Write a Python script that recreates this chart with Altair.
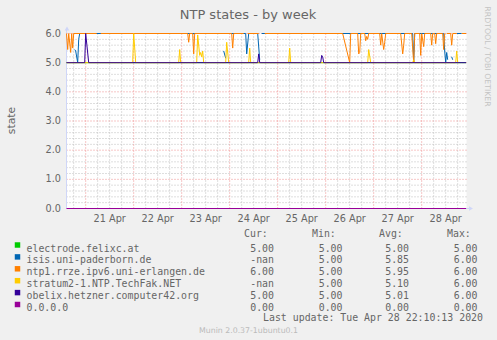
import altair as alt
import pandas as pd

FONT = "DejaVu Sans"
MONO = "DejaVu Sans Mono"
TXT = "#666666"
W, H = 400, 175

# ---- series: time in hours after 2020-04-21 00:00, None = unknown ----
electrode_t = [-9.6, 190.2]
electrode_v = [5.0, 5.0]

isis_t = [-5.5, -5, -4, -3.5, -3, 68, 68.5, 69, 70, 70.5, 71, 80, 80.5, 81.5, 86, 87, 87.5,
          88, 163.5, 164, 164.5, 179, 179.5, 180, 180.5, 181, 181.5, 183, 183.5, 184, 185.5, 188]
isis_v = [5.45, 5.4, 5.0, 5.8, 6.0, 6.0, None, 5.4, 5.15, None, 6.0, 6.0, 5.3, 6.0, 6.0, 5.1, None,
          6.0, 6.0, 5.0, 6.0, 6.0, 5.4, 5.0, 5.35, 5.1, None, 5.2, 5.1, None, 6.0, 6.0]

ntp1_t = [-9.6, -9, -8.5, -7.5, -7, -6.5, -6, 5.5, 6.5, 7.5, 51, 51.5, 52, 53.5, 54, 54.5,
          73, 73.5, 74, 79, 80, 81, 86.5, 88, 89.5, 128.5, 132, 132.5, 136, 136.5, 137, 137.5,
          139.5, 140, 140.5, 141, 141.5, 147, 147.5, 148, 149, 149.5, 150, 157.5, 158.5, 159,
          159.5, 163, 164, 164.5, 167, 167.5, 168, 169, 169.5, 172.5, 173, 173.5, 174.5, 175,
          175.5, 178.5, 179, 179.5, 180, 180.5, 182.5, 183, 183.5, 185.5, 186.5, 188, 190.2]
ntp1_v = [6.0, 5.45, 6.0, 5.35, 6.0, 5.5, 6.0, 6.0, None, 6.0, 6.0, 5.7, 6.0, 6.0, 5.3, 6.0,
          6.0, 5.5, 6.0, 6.0, None, 6.0, 6.0, None, 6.0, 6.0, 5.0, 6.0, 6.0, 5.3, 5.35, 6.0,
          6.0, 5.75, 5.9, 5.8, 6.0, 6.0, 5.6, 6.0, 5.45, 5.7, 6.0, 6.0, 5.3, 5.6,
          6.0, 6.0, 5.0, 6.0, 6.0, 5.25, 6.0, 5.55, 6.0, 6.0, 5.6, 6.0, 6.0, 5.65,
          6.0, 6.0, 5.45, 6.0, None, 6.0, 6.0, 5.6, 6.0, 6.0, None, 6.0, 6.0]

stratum_t = [-9.6, 23.5, 24, 25, 46.5, 47, 47.5, 55.5, 56, 57, 57.5, 58, 58.5, 59, 70, 70.5,
             71.5, 81.5, 82, 82.5, 101.5, 102, 102.5, 141, 141.5, 142.5, 163.5, 164, 164.5,
             185, 185.5, 186, 186.5]
stratum_v = [5.0, 5.0, 6.0, 5.0, 5.0, 5.45, 5.0, 5.0, 5.95, 5.25, 5.35, 5.2, 5.4, 5.0, 5.0, 5.7,
             5.0, 5.0, 5.5, 5.0, 5.0, 5.5, 5.0, 5.0, 5.45, 5.0, 5.0, 5.1, 5.0,
             5.0, 5.4, 5.0, 5.0]

obelix_t = [-9.6, -0.5, 0, 1.5, 86, 86.5, 87, 117.5, 118, 118.5, 119, 190.2]
obelix_v = [5.0, 5.0, 6.0, 5.0, 5.0, 5.3, 5.0, 5.0, 5.25, 5.2, 5.0, 5.0]

zero_t = [-9.6, 190.2]
zero_v = [0.0, 0.0]

# ---- legend ----
names = ["electrode.felixc.at", "isis.uni-paderborn.de", "ntp1.rrze.ipv6.uni-erlangen.de",
         "stratum2-1.NTP.TechFak.NET", "obelix.hetzner.computer42.org", "0.0.0.0"]
colors = ["#00CC00", "#0066B3", "#FF8000", "#FFCC00", "#330099", "#990099"]
cur = ["5.00", "-nan", "6.00", "-nan", "5.00", "0.00"]
mins = ["5.00", "5.00", "5.00", "5.00", "5.00", "0.00"]
avgs = ["5.00", "5.85", "5.95", "5.10", "5.01", "0.00"]
maxs = ["5.00", "6.00", "6.00", "6.00", "6.00", "0.00"]

# ---- axes / grid ----
y_ticks = [0, 1, 2, 3, 4, 5, 6]
y_minor = [0.2, 0.4, 0.6, 0.8, 1.2, 1.4, 1.6, 1.8, 2.2, 2.4, 2.6, 2.8, 3.2, 3.4, 3.6, 3.8,
           4.2, 4.4, 4.6, 4.8, 5.2, 5.4, 5.6, 5.8]
x_major = [0, 24, 48, 72, 96, 120, 144, 168]
x_minor = [-6, 6, 12, 18, 30, 36, 42, 54, 60, 66, 78, 84, 90, 102, 108, 114, 126, 132, 138,
           150, 156, 162, 174, 180, 186]
day_pos = [12, 36, 60, 84, 108, 132, 156, 180]
day_labels = ["21 Apr", "22 Apr", "23 Apr", "24 Apr", "25 Apr", "26 Apr", "27 Apr", "28 Apr"]

xs = alt.Scale(domain=[-9.6, 190.4], nice=False, zero=False)
ys = alt.Scale(domain=[0, 6], nice=False, zero=False)

MINOR = "#BDBDBD"
MAJOR = "#EE8E8E"

layers = []

# grid
layers.append(alt.Chart(pd.DataFrame({"y": y_minor})).mark_rule(
    color=MINOR, strokeWidth=1, strokeDash=[1, 2]).encode(
    y=alt.Y("y:Q", scale=ys, axis=None)))
layers.append(alt.Chart(pd.DataFrame({"x": x_minor})).mark_rule(
    color=MINOR, strokeWidth=1, strokeDash=[1, 2]).encode(
    x=alt.X("x:Q", scale=xs, axis=None)))
layers.append(alt.Chart(pd.DataFrame({"y": y_ticks[1:]})).mark_rule(
    color=MAJOR, strokeWidth=1, strokeDash=[1, 2]).encode(
    y=alt.Y("y:Q", scale=ys, axis=None)))
layers.append(alt.Chart(pd.DataFrame({"x": x_major})).mark_rule(
    color=MAJOR, strokeWidth=1, strokeDash=[1, 2]).encode(
    x=alt.X("x:Q", scale=xs, axis=None)))

# axis lines and arrows
one = pd.DataFrame({"a": [0]})
layers.append(alt.Chart(one).mark_rule(color="#CFD6F8", strokeWidth=1).encode(
    x=alt.value(0), y=alt.value(-4), y2=alt.value(H)))
layers.append(alt.Chart(one).mark_rule(color="#CFD6F8", strokeWidth=1).encode(
    x=alt.value(0), x2=alt.value(W + 3), y=alt.value(H)))
layers.append(alt.Chart(one).mark_point(shape="triangle-up", filled=True, size=22,
                                        color="#CFD6F8", opacity=1).encode(
    x=alt.value(0.5), y=alt.value(-5)))
layers.append(alt.Chart(one).mark_point(shape="triangle-right", filled=True, size=22,
                                        color="#CFD6F8", opacity=1).encode(
    x=alt.value(W + 4.5), y=alt.value(H)))

# data lines, drawn in munin order
series = [(electrode_t, electrode_v), (isis_t, isis_v), (ntp1_t, ntp1_v),
          (stratum_t, stratum_v), (obelix_t, obelix_v), (zero_t, zero_v)]
for (ts, vs), col in zip(series, colors):
    df = pd.DataFrame({"t": ts, "v": vs})
    layers.append(alt.Chart(df).mark_line(color=col, strokeWidth=1, interpolate="linear").encode(
        x=alt.X("t:Q", scale=xs, axis=None),
        y=alt.Y("v:Q", scale=ys, axis=None)))

# tick labels
layers.append(alt.Chart(pd.DataFrame({"y": y_ticks})).mark_text(
    font=FONT, fontSize=9.7, color=TXT, align="right", baseline="middle").encode(
    y=alt.Y("y:Q", scale=ys, axis=None), x=alt.value(-5.5),
    text=alt.Text("y:Q", format=".1f")))
layers.append(alt.Chart(pd.DataFrame({"x": day_pos, "lab": day_labels})).mark_text(
    font=FONT, fontSize=9.7, color=TXT, align="center", baseline="alphabetic").encode(
    x=alt.X("x:Q", scale=xs, axis=None), y=alt.value(188), text="lab:N"))

# titles / watermarks
def label(txt, x, y, size, color=TXT, font=FONT, align="center", angle=0, baseline="alphabetic"):
    kw = dict(font=font, fontSize=size, color=color, align=align, baseline=baseline)
    if angle:
        kw["angle"] = angle
    return alt.Chart(one).mark_text(**kw).encode(
        x=alt.value(x), y=alt.value(y), text=alt.value(txt))

layers.append(label("NTP states - by week", 181.5, -15, 13))
layers.append(label("state", -55, 87, 10.8, angle=270, baseline="middle"))
layers.append(label("RRDTOOL / TOBI OETIKER", 420, 23, 7.8, color="#C4C4C4", angle=90,
                    baseline="middle"))
layers.append(label("Munin 2.0.37-1ubuntu0.1", 182, 299, 7.8, color="#BBBBBB"))
layers.append(label("Last update: Tue Apr 28 22:10:13 2020", 416.5, 287, 9.9,
                    font=MONO, align="right"))
for hdr, hx in zip(["Cur:", "Min:", "Avg:", "Max:"], [177.5, 245.5, 312.5, 380.5]):
    layers.append(label(hdr, hx, 203.5, 9.9, font=MONO, align="left"))

leg = pd.DataFrame({"row": list(range(len(names))), "name": names, "col": colors,
                    "cur": cur, "mn": mins, "avg": avgs, "mx": maxs})
legbase = alt.Chart(leg).transform_calculate(
    py="215 + datum.row * 11.9", sy="211.5 + datum.row * 11.9")
layers.append(legbase.mark_square(size=30, opacity=1).encode(
    x=alt.value(-49), y=alt.Y("sy:Q", scale=None, axis=None),
    color=alt.Color("col:N", scale=None, legend=None)))
layers.append(legbase.mark_text(font=MONO, fontSize=9.9, color=TXT, align="left").encode(
    x=alt.value(-40), y=alt.Y("py:Q", scale=None, axis=None), text="name:N"))
for fld, rx in zip(["cur", "mn", "avg", "mx"], [207.5, 276, 342.5, 411]):
    layers.append(legbase.mark_text(font=MONO, fontSize=9.9, color=TXT, align="right").encode(
        x=alt.value(rx), y=alt.Y("py:Q", scale=None, axis=None), text=f"{fld}:N"))

chart = alt.layer(*layers).properties(
    width=W, height=H,
    autosize=alt.AutoSizeParams(type="none"),
    padding={"left": 66.5, "top": 33.5, "right": 30.5, "bottom": 131.5},
    background="#F0F0F0",
).configure_view(stroke=None, fill="#FFFFFF")

chart.save("out.html", embed_options={"renderer": "svg", "actions": False})
